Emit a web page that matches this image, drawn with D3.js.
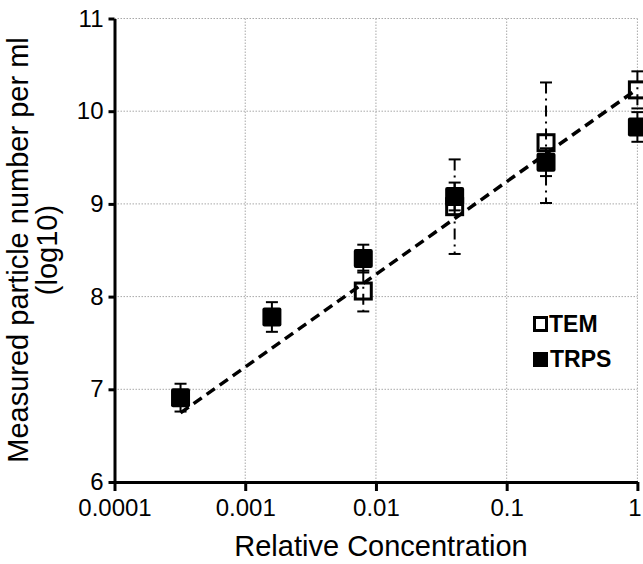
<!DOCTYPE html>
<html>
<head>
<meta charset="utf-8">
<script src="https://cdn.jsdelivr.net/npm/d3@7.9.0/dist/d3.min.js"></script>
<style>
  body { margin: 0; background: #fff; }
  svg text { font-family: "Liberation Sans", Arial, sans-serif; fill: #000; }
</style>
</head>
<body>
<div id="chart"></div>
<script>
// relative concentration of each dilution
const conc = [0.00032, 0.0016, 0.008, 0.04, 0.2, 1];
// TRPS measurements (log10 particles/ml) and error
const trpsMean = [6.91, 7.78, 8.41, 9.08, 9.45, 9.83];
const trpsErr = [0.15, 0.16, 0.15, 0.15, 0.15, 0.16];
// TEM measurements
const temConc = [0.008, 0.04, 0.2, 1];
const temMean = [8.06, 8.97, 9.66, 10.23];
const temErr = [0.22, 0.51, 0.65, 0.2];
// trend line end points
const trendX = [0.00032, 1];
const trendY = [6.745, 10.24];

const xTicks = [0.0001, 0.001, 0.01, 0.1, 1];
const xTickLabels = ['0.0001', '0.001', '0.01', '0.1', '1'];
const yTicks = [6, 7, 8, 9, 10, 11];

const width = 643, height = 564;

const svg = d3.select('#chart').append('svg')
    .attr('width', width)
    .attr('height', height);

const x = d3.scaleLog().domain([0.0001, 1]).range([114.5, 637.4]);
const y = d3.scaleLinear().domain([6, 11]).range([482, 18.5]);

// grid
const grid = svg.append('g')
    .attr('stroke', '#a8a8a8')
    .attr('stroke-width', 1)
    .attr('stroke-dasharray', '1.5,1.5');
grid.selectAll('line.v')
    .data(xTicks.slice(1))
    .enter().append('line')
    .attr('x1', d => x(d)).attr('x2', d => x(d))
    .attr('y1', y(11)).attr('y2', y(6));
grid.selectAll('line.h')
    .data(yTicks.slice(1))
    .enter().append('line')
    .attr('x1', x(0.0001)).attr('x2', x(1))
    .attr('y1', d => y(d)).attr('y2', d => y(d));

const temData = temConc.map((c, i) => ({ c, m: temMean[i], e: temErr[i] }));
const trpsData = conc.map((c, i) => ({ c, m: trpsMean[i], e: trpsErr[i] }));

// TEM markers (open squares)
svg.append('g').selectAll('rect')
    .data(temData)
    .enter().append('rect')
    .attr('x', d => x(d.c) - 8)
    .attr('y', d => y(d.m) - 8)
    .attr('width', 16)
    .attr('height', 16)
    .attr('fill', '#fff')
    .attr('stroke', '#000')
    .attr('stroke-width', 3);

// TRPS markers (filled squares)
svg.append('g').selectAll('rect')
    .data(trpsData)
    .enter().append('rect')
    .attr('x', d => x(d.c) - 9.5)
    .attr('y', d => y(d.m) - 9.5)
    .attr('width', 19)
    .attr('height', 19)
    .attr('rx', 2)
    .attr('fill', '#000');

// error bars
function errorBars(data, dash) {
    const g = svg.append('g').attr('stroke', '#000').attr('stroke-width', 2);
    g.selectAll('line.stem')
        .data(data)
        .enter().append('line')
        .attr('x1', d => x(d.c)).attr('x2', d => x(d.c))
        .attr('y1', d => y(d.m + d.e)).attr('y2', d => y(d.m - d.e))
        .attr('stroke-dasharray', dash);
    g.selectAll('line.top')
        .data(data)
        .enter().append('line')
        .attr('x1', d => x(d.c) - 6).attr('x2', d => x(d.c) + 6)
        .attr('y1', d => y(d.m + d.e)).attr('y2', d => y(d.m + d.e));
    g.selectAll('line.bot')
        .data(data)
        .enter().append('line')
        .attr('x1', d => x(d.c) - 6).attr('x2', d => x(d.c) + 6)
        .attr('y1', d => y(d.m - d.e)).attr('y2', d => y(d.m - d.e));
}
errorBars(temData, '11,5,2,5');
errorBars(trpsData, null);

// trend line
svg.append('path')
    .datum(trendX.map((v, i) => [v, trendY[i]]))
    .attr('fill', 'none')
    .attr('stroke', '#000')
    .attr('stroke-width', 3.5)
    .attr('stroke-dasharray', '10,6')
    .attr('d', d3.line().x(d => x(d[0])).y(d => y(d[1])));

// axes
const xAxis = d3.axisBottom(x)
    .tickValues(xTicks)
    .tickFormat((d, i) => xTickLabels[i])
    .tickSize(9)
    .tickSizeOuter(0)
    .tickPadding(8);
const gx = svg.append('g')
    .attr('transform', `translate(0,${y(6)})`)
    .call(xAxis);
gx.select('.domain').attr('stroke-width', 3);
gx.selectAll('.tick line').attr('stroke-width', 3);
gx.selectAll('.tick text').style('font-size', '24px');
// keep the last label inside the frame
gx.selectAll('.tick text').filter(d => d === 1).attr('dx', -3);

const yAxis = d3.axisLeft(y)
    .tickValues(yTicks)
    .tickFormat(d3.format('d'))
    .tickSize(6)
    .tickSizeOuter(0)
    .tickPadding(5);
const gy = svg.append('g')
    .attr('transform', `translate(${x(0.0001)},0)`)
    .call(yAxis);
gy.select('.domain').attr('stroke-width', 3);
gy.selectAll('.tick line').attr('stroke-width', 3);
gy.selectAll('.tick text').style('font-size', '24px');

// axis titles
svg.append('text')
    .attr('x', 381)
    .attr('y', 556)
    .attr('text-anchor', 'middle')
    .style('font-size', '29px')
    .text('Relative Concentration');

const yTitle = svg.append('text')
    .attr('transform', 'rotate(-90)')
    .attr('text-anchor', 'middle')
    .style('font-size', '29px');
yTitle.append('tspan').attr('x', -250).attr('y', 28).text('Measured particle number per ml');
yTitle.append('tspan').attr('x', -250).attr('y', 57).text('(log10)');

// legend
const legend = svg.append('g');
legend.append('rect')
    .attr('x', 534.5).attr('y', 317.5).attr('width', 12).attr('height', 13)
    .attr('fill', '#fff').attr('stroke', '#000').attr('stroke-width', 3);
legend.append('text')
    .attr('x', 549).attr('y', 332)
    .style('font-size', '23px').style('font-weight', 'bold')
    .text('TEM');
legend.append('rect')
    .attr('x', 533).attr('y', 352).attr('width', 15).attr('height', 15)
    .attr('fill', '#000');
legend.append('text')
    .attr('x', 550).attr('y', 367)
    .style('font-size', '23px').style('font-weight', 'bold')
    .text('TRPS');
</script>
</body>
</html>
